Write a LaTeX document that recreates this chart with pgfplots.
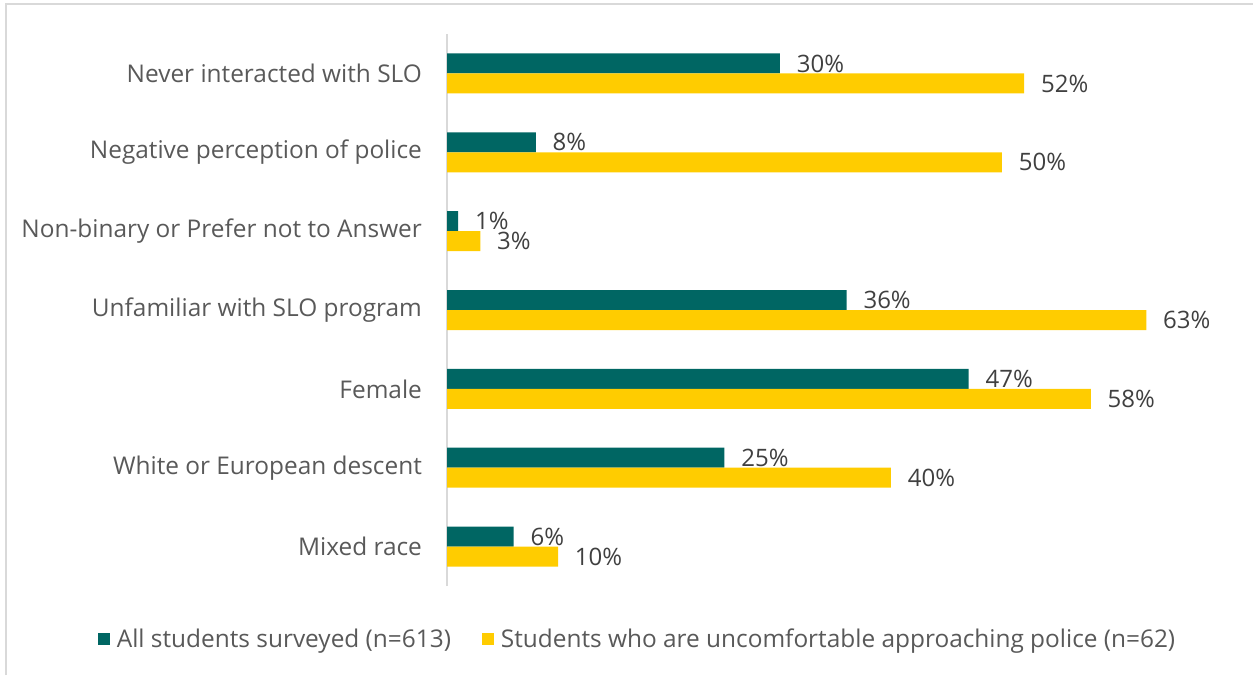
\documentclass[border=0pt]{standalone}
\usepackage{fontspec}
\setmainfont{Open Sans}
\usepackage{pgfplots}
\pgfplotsset{compat=1.18}
\definecolor{teal1}{HTML}{006663}
\definecolor{yell}{HTML}{FFCC00}
\definecolor{txt}{HTML}{595959}
\definecolor{val}{HTML}{404040}
\definecolor{axg}{HTML}{D9D9D9}
\begin{document}
\begin{tikzpicture}
\useasboundingbox (0,0) rectangle (939.75pt,506.25pt);
\draw[axg, line width=1.1pt] (4.5pt,0) -- (4.5pt,503.25pt) -- (945pt,503.25pt);
\begin{axis}[
  at={(335.25pt,66.75pt)}, anchor=south west,
  scale only axis, width=582.75pt, height=414pt,
  xmin=0, xmax=70, ymin=-0.5, ymax=6.5,
  xbar, bar width=15pt,
  /pgf/number format/assume math mode=true,
  axis x line=none, axis y line=left,
  y axis line style={-, draw=axg, line width=1pt},
  ytick={0,...,6}, ytick style={draw=none},
  yticklabels={Mixed race, White or European descent, Female, Unfamiliar with SLO program, Non-binary or Prefer not to Answer, Negative perception of police, Never interacted with SLO},
  yticklabel style={font=\fontsize{18.3}{21}\selectfont, color=txt, inner sep=0pt, xshift=-16.5pt},
  nodes near coords={\pgfmathprintnumber[assume math mode=true]{\pgfplotspointmeta}\%},
  nodes near coords style={font=\fontsize{18}{21}\selectfont, color=val, anchor=west, inner sep=0pt, xshift=12.5pt},
  legend style={at={(0.248,-0.096)}, anchor=center, draw=none, legend columns=2,
    font=\fontsize{18.3}{21}\selectfont, text=txt,
    nodes={inner xsep=5pt},
    /tikz/every even column/.append style={column sep=18pt}},
  legend image code/.code={\fill[#1] (0pt,-4.8pt) rectangle (9.5pt,4.8pt);},
]
\addplot[fill=teal1, draw=none, bar shift=7.5pt] coordinates {(6,0) (25,1) (47,2) (36,3) (1,4) (8,5) (30,6)};
\addlegendentry{All students surveyed (n=613)}
\addplot[fill=yell, draw=none, bar shift=-7.5pt] coordinates {(10,0) (40,1) (58,2) (63,3) (3,4) (50,5) (52,6)};
\addlegendentry{Students who are uncomfortable approaching police (n=62)}
\end{axis}
\end{tikzpicture}
\end{document}
